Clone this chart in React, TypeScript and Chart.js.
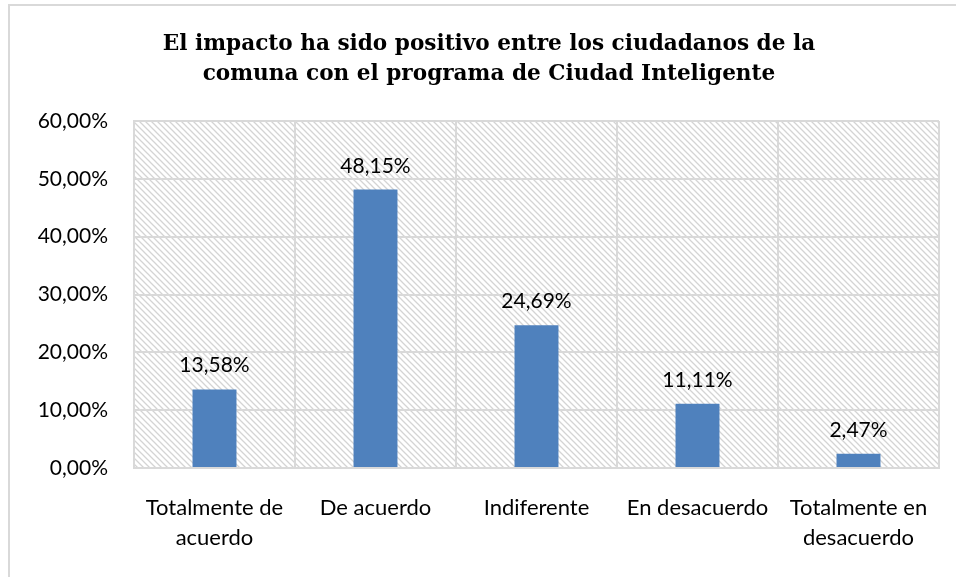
import React, { useEffect, useRef } from "react";
import { Chart, registerables } from "chart.js";

Chart.register(...registerables);

const categories: (string | string[])[] = [
  ["Totalmente de", "acuerdo"],
  "De acuerdo",
  "Indiferente",
  "En desacuerdo",
  ["Totalmente en", "desacuerdo"],
];
const values: number[] = [13.58, 48.15, 24.69, 11.11, 2.47];
const titleLines: string[] = [
  "El impacto ha sido positivo entre los ciudadanos de la",
  "comuna con el programa de Ciudad Inteligente",
];
const yMax = 60;
const yStep = 10;

const fmt = (v: number) => v.toFixed(2).replace(".", ",") + "%";

const LABEL_FONT = "Lato, 'Open Sans', sans-serif";

function makePattern(ctx: CanvasRenderingContext2D): CanvasPattern | string {
  const c = document.createElement("canvas");
  const s = 6;
  c.width = s;
  c.height = s;
  const p = c.getContext("2d");
  if (!p) return "#fff";
  p.fillStyle = "#ffffff";
  p.fillRect(0, 0, s, s);
  p.strokeStyle = "#d4d4d4";
  p.lineWidth = 1.3;
  p.beginPath();
  p.moveTo(0, 0);
  p.lineTo(s, s);
  p.moveTo(-s, 0);
  p.lineTo(s, 2 * s);
  p.moveTo(0, -s);
  p.lineTo(2 * s, s);
  p.stroke();
  return ctx.createPattern(c, "repeat") || "#fff";
}

const framePlugin = {
  id: "frame",
  beforeDraw(chart: any) {
    const { ctx, chartArea } = chart;
    ctx.save();
    ctx.fillStyle = "#ffffff";
    ctx.fillRect(0, 0, chart.width, chart.height);
    // outer border (cropped at right/bottom)
    ctx.strokeStyle = "#d9d9d9";
    ctx.lineWidth = 2;
    ctx.strokeRect(9, 5, chart.width + 20, chart.height + 20);
    // hatched plot background
    ctx.fillStyle = makePattern(ctx);
    ctx.fillRect(chartArea.left, chartArea.top, chartArea.right - chartArea.left, chartArea.bottom - chartArea.top);
    // title
    ctx.fillStyle = "#000000";
    ctx.font = "bold 21.6px 'DejaVu Serif', serif";
    ctx.textAlign = "center";
    ctx.textBaseline = "alphabetic";
    const cx = 489;
    ctx.fillText(titleLines[0], cx, 50);
    ctx.fillText(titleLines[1], cx, 80);
    ctx.restore();
  },
  afterDatasetsDraw(chart: any) {
    const { ctx } = chart;
    const meta = chart.getDatasetMeta(0);
    ctx.save();
    ctx.fillStyle = "#000000";
    ctx.font = `21px ${LABEL_FONT}`;
    ctx.textAlign = "center";
    ctx.textBaseline = "alphabetic";
    meta.data.forEach((el: any, i: number) => {
      ctx.fillText(fmt(values[i]), el.x, el.y - 17);
    });
    ctx.restore();
  },
};

export default function App() {
  const ref = useRef<HTMLCanvasElement>(null);
  useEffect(() => {
    if (!ref.current) return;
    const chart = new Chart(ref.current, {
      type: "bar",
      data: {
        labels: categories,
        datasets: [
          {
            data: values,
            backgroundColor: "#4f81bd",
            borderWidth: 0,
            barPercentage: 0.273,
            categoryPercentage: 1,
          },
        ],
      },
      options: {
        animation: false,
        responsive: false,
        maintainAspectRatio: false,
        events: [],
        layout: { padding: { left: 0, top: 121, right: 17, bottom: 0 } },
        plugins: {
          legend: { display: false },
          tooltip: { enabled: false },
          title: { display: false },
        },
        scales: {
          x: {
            grid: { color: "#d9d9d9", lineWidth: 2, drawTicks: false, offset: true },
            border: { color: "#d9d9d9", width: 2 },
            ticks: {
              color: "#000",
              font: { family: LABEL_FONT, size: 22, lineHeight: 1.36 },
              padding: 25,
              maxRotation: 0,
              autoSkip: false,
            },
            afterFit(scale: any) {
              scale.height = 109;
            },
          },
          y: {
            min: 0,
            max: yMax,
            grid: { color: "#d9d9d9", lineWidth: 2, drawTicks: false },
            border: { color: "#d9d9d9", width: 2 },
            ticks: {
              stepSize: yStep,
              color: "#000",
              font: { family: LABEL_FONT, size: 21 },
              padding: 26,
              callback: (v: any) => fmt(Number(v)),
            },
            afterFit(scale: any) {
              scale.width = 134;
            },
          },
        },
      },
      plugins: [framePlugin],
    });
    return () => chart.destroy();
  }, []);
  return (
    <div style={{ position: "fixed", left: 0, top: 0, width: 956, height: 577, background: "#fff" }}>
      <canvas ref={ref} width={956} height={577} style={{ display: "block" }} />
    </div>
  );
}
